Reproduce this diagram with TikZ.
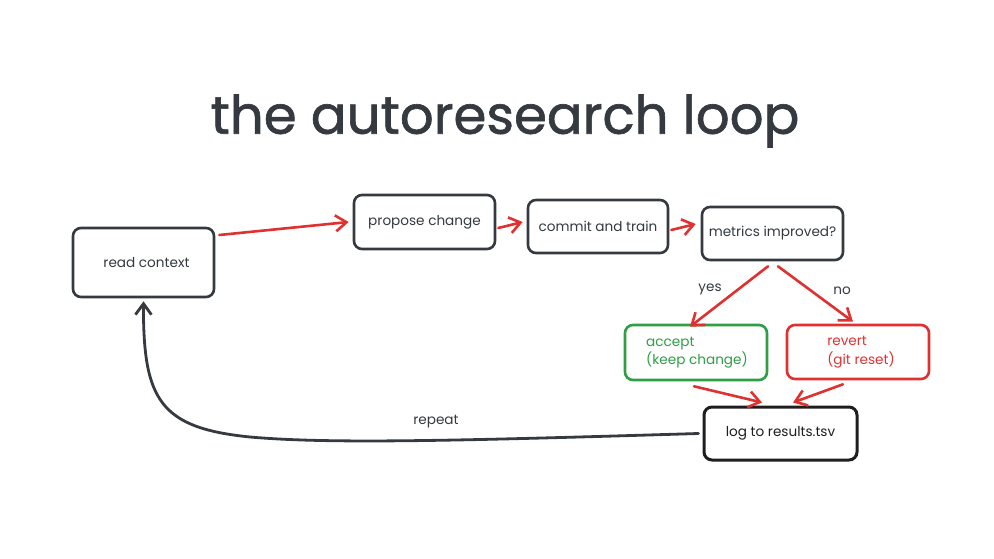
\documentclass[tikz,border=0pt]{standalone}
\usepackage{fontspec}
\setmainfont{Poppins}
\newfontfamily\titlefont[FakeBold=1.2]{Poppins}
\usetikzlibrary{arrows.meta}
\definecolor{ink}{HTML}{343A40}
\definecolor{inkdark}{HTML}{1E1E1E}
\definecolor{exred}{HTML}{E03131}
\definecolor{exgreen}{HTML}{2F9E44}
\tikzset{
  box/.style={draw=ink, line width=2.6pt, rounded corners=8pt, fill=white,
    text=ink, font=\fontsize{13.6}{18.5}\selectfont, inner sep=0pt, align=center},
  redarrow/.style={draw=exred, line width=2.6pt, line cap=round,
    -{Straight Barb[length=11pt,width=16pt,line width=2.6pt]}},
  darkarrow/.style={draw=ink, line width=2.8pt, line cap=round,
    -{Straight Barb[length=11pt,width=16pt,line width=2.8pt]}},
  lbl/.style={text=ink, font=\fontsize{13.6}{16}\selectfont, inner sep=0pt}
}
\begin{document}
\begin{tikzpicture}[x=1pt,y=-1pt]
\useasboundingbox (0,0) rectangle (994,559);
\fill[white] (0,0) rectangle (994,559);

\node[text=ink, font=\titlefont\fontsize{53}{62}\selectfont, inner sep=0pt] (title) at (505,121) {the autoresearch loop};

\node[box, minimum width=141pt, minimum height=69pt] (rc) at (143.5,262.5) {\raisebox{-4pt}{\hspace*{6pt}read context}};
\node[box, minimum width=141pt, minimum height=54pt] (pc) at (424.5,222) {propose change};
\node[box, minimum width=140pt, minimum height=53pt] (ct) at (598,226.5) {commit and train};
\node[box, minimum width=141pt, minimum height=53pt] (mi) at (772.5,233.5) {metrics improved?};
\node[box, draw=exgreen, text=exgreen, minimum width=142pt, minimum height=55pt, align=left] (ac) at (696,352.5) {\hspace*{2pt}accept\\\hspace*{2pt}(keep change)};
\node[box, draw=exred, text=exred, minimum width=142pt, minimum height=54pt, align=left] (rv) at (858,352) {\hspace*{6pt}revert\\\hspace*{6pt}(git reset)};
\node[box, draw=inkdark, text=inkdark, line width=3pt, minimum width=153pt, minimum height=53pt] (lg) at (780.5,433.5) {log to results.tsv};

\node[lbl] (yes) at (710,289) {yes};
\node[lbl] (no) at (842,291) {no};
\node[lbl] (rep) at (436,422) {repeat};

\draw[redarrow] ([xshift=4pt,yshift=27.5pt]rc.east) -- ([xshift=-4pt]pc.west);
\draw[redarrow] ([xshift=2pt,yshift=-6pt]pc.east) -- ([xshift=-4pt,yshift=4.5pt]ct.west);
\draw[redarrow] ([xshift=2pt,yshift=-3.5pt]ct.east) -- ([xshift=-5pt,yshift=9.5pt]mi.west);
\draw[redarrow] ([xshift=-4.5pt,yshift=-5pt]mi.south) -- ([xshift=-6pt,yshift=-3pt]ac.north);
\draw[redarrow] ([xshift=5.5pt,yshift=-5pt]mi.south) -- ([xshift=-5pt,yshift=2pt]rv.north);
\draw[redarrow] ([xshift=-2pt,yshift=-5pt]ac.south) -- ([xshift=-18.5pt,yshift=3pt]lg.north);
\draw[redarrow] ([xshift=-15pt,yshift=-4pt]rv.south) -- ([xshift=12.5pt,yshift=3pt]lg.north);

\draw[darkarrow] ([xshift=-4pt]lg.west) .. controls (450,441) and (330,444) .. (250,437)
   .. controls (160,428) and (143,400) .. ([xshift=0pt,yshift=-3pt]rc.south);
\end{tikzpicture}
\end{document}
